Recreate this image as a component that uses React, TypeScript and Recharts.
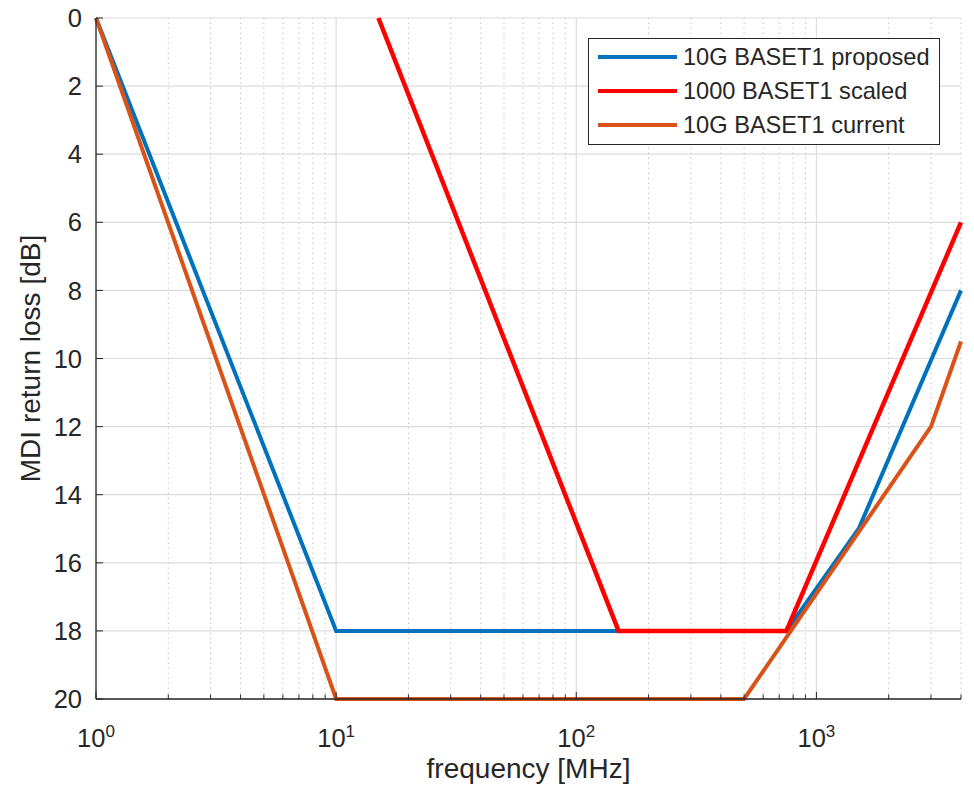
import { LineChart, Line, XAxis, YAxis, CartesianGrid, ReferenceLine, Legend } from 'recharts'

const FONT = '"Liberation Sans", Arial, Helvetica, sans-serif'
const AX = '#262626'

// series: frequency [MHz] / return loss [dB]
const proposedFreq = [1, 10, 750, 1500, 4000]
const proposedRL = [0, 18, 18, 15, 8]
const scaledFreq = [15, 150, 750, 4000]
const scaledRL = [0, 18, 18, 6]
const currentFreq = [1, 10, 500, 3000, 4000]
const currentRL = [0, 20, 20, 12, 9.5]

const seriesNames = ['10G BASET1 proposed', '1000 BASET1 scaled', '10G BASET1 current']
const seriesColors = ['#0072BD', '#FF0000', '#D95319']

const xMajorTicks = [1, 10, 100, 1000]
const xMajorExp = ['0', '1', '2', '3']
const xMinorTicks = [
  2, 3, 4, 5, 6, 7, 8, 9,
  20, 30, 40, 50, 60, 70, 80, 90,
  200, 300, 400, 500, 600, 700, 800, 900,
  2000, 3000, 4000,
]
const yTicks = [0, 2, 4, 6, 8, 10, 12, 14, 16, 18, 20]

const toPoints = (fs: number[], vs: number[]) => fs.map((f, i) => ({ f, rl: vs[i] }))
const proposed = toPoints(proposedFreq, proposedRL)
const scaled = toPoints(scaledFreq, scaledRL)
const current = toPoints(currentFreq, currentRL)
const allXTicks = [...xMajorTicks, ...xMinorTicks]

const BottomTick = ({ x, y, payload }: any) => {
  const idx = xMajorTicks.indexOf(payload.value)
  const major = idx >= 0
  return (
    <g>
      <line x1={x} x2={x} y1={y} y2={y - (major ? 7 : 4.5)} stroke={AX} strokeWidth={1} />
      {major && (
        <text x={x} y={y + 48} textAnchor="middle" fontSize={25.5} fill={AX} fontFamily={FONT}>
          10
          <tspan dy={-10} fontSize={17}>{xMajorExp[idx]}</tspan>
        </text>
      )}
    </g>
  )
}

const TopTick = ({ x, y, payload }: any) => {
  const major = xMajorTicks.includes(payload.value)
  return <line x1={x} x2={x} y1={y} y2={y + (major ? 7 : 4.5)} stroke={AX} strokeWidth={1} />
}

const LeftTick = ({ x, y, payload }: any) => (
  <g>
    <line x1={x} x2={x + 7} y1={y} y2={y} stroke={AX} strokeWidth={1} />
    <text x={x - 14} y={y} dy="0.36em" textAnchor="end" fontSize={25.5} fill={AX} fontFamily={FONT}>
      {payload.value}
    </text>
  </g>
)

const RightTick = ({ x, y }: any) => (
  <line x1={x} x2={x - 7} y1={y} y2={y} stroke={AX} strokeWidth={1} />
)

const renderLegend = ({ payload }: any) => {
  const items = seriesNames.map((n, i) => {
    const p = (payload || []).find((e: any) => e.value === n)
    return { name: n, color: p ? p.color : seriesColors[i] }
  })
  return (
    <div
      style={{
        border: `1.3px solid ${AX}`,
        background: '#fff',
        boxSizing: 'border-box',
        width: 352,
        height: 107,
        padding: '1px 0 0 9px',
        fontFamily: FONT,
      }}
    >
      {items.map((it) => (
        <div key={it.name} style={{ display: 'flex', alignItems: 'center', height: 34 }}>
          <svg width={79} height={8}>
            <line x1={0} x2={79} y1={4} y2={4} stroke={it.color} strokeWidth={4} />
          </svg>
          <span style={{ marginLeft: 6, fontSize: 23.6, color: AX, whiteSpace: 'nowrap' }}>{it.name}</span>
        </div>
      ))}
    </div>
  )
}

export default function App() {
  return (
    <div style={{ width: 974, height: 785, background: '#fff' }}>
      <style>{`body { margin: 0; }`}</style>
      <LineChart width={974} height={785} margin={{ top: 18, right: 13, bottom: 0, left: 0 }} style={{ fontFamily: FONT }}>
        <CartesianGrid vertical={false} stroke="#dcdcdc" strokeWidth={1.2} />
        {xMinorTicks.map((v) => (
          <ReferenceLine key={`m${v}`} x={v} stroke="#c4c4c4" strokeWidth={1} strokeDasharray="1.5 3.5" />
        ))}
        {xMajorTicks.map((v) => (
          <ReferenceLine key={`M${v}`} x={v} stroke="#dcdcdc" strokeWidth={1.2} />
        ))}
        <XAxis
          dataKey="f"
          type="number"
          scale="log"
          domain={[1, 4000]}
          ticks={allXTicks}
          interval={0}
          tickSize={0}
          tickMargin={0}
          tickLine={false}
          axisLine={{ stroke: AX, strokeWidth: 1.3 }}
          height={86}
          tick={BottomTick}
          label={{ value: 'frequency [MHz]', position: 'insideBottom', offset: 7, style: { fontSize: 28, fill: AX, fontFamily: FONT } }}
        />
        <XAxis
          xAxisId="top"
          orientation="top"
          type="number"
          scale="log"
          domain={[1, 4000]}
          ticks={allXTicks}
          interval={0}
          tickSize={0}
          tickMargin={0}
          tickLine={false}
          axisLine={{ stroke: AX, strokeWidth: 1.3 }}
          height={0}
          tick={TopTick}
        />
        <YAxis
          type="number"
          domain={[0, 20]}
          reversed
          ticks={yTicks}
          interval={0}
          tickSize={0}
          tickMargin={0}
          tickLine={false}
          axisLine={{ stroke: AX, strokeWidth: 1.3 }}
          width={96}
          tick={LeftTick}
          label={{
            value: 'MDI return loss [dB]',
            angle: -90,
            position: 'insideLeft',
            offset: 30,
            style: { textAnchor: 'middle', fontSize: 28, fill: AX, fontFamily: FONT },
          }}
        />
        <YAxis
          yAxisId="right"
          orientation="right"
          type="number"
          domain={[0, 20]}
          reversed
          ticks={yTicks}
          interval={0}
          tickSize={0}
          tickMargin={0}
          tickLine={false}
          axisLine={{ stroke: AX, strokeWidth: 1.3 }}
          width={0}
          tick={RightTick}
        />
        <Line data={proposed} dataKey="rl" name={seriesNames[0]} stroke={seriesColors[0]} strokeWidth={4} dot={false} type="linear" isAnimationActive={false} />
        <Line data={scaled} dataKey="rl" name={seriesNames[1]} stroke={seriesColors[1]} strokeWidth={4.5} dot={false} type="linear" isAnimationActive={false} />
        <Line data={current} dataKey="rl" name={seriesNames[2]} stroke={seriesColors[2]} strokeWidth={4} dot={false} type="linear" isAnimationActive={false} />
        <Legend
          layout="vertical"
          align="center"
          verticalAlign="middle"
          content={renderLegend}
          wrapperStyle={{ left: 588, top: 38, width: 352, height: 107 }}
        />
      </LineChart>
    </div>
  )
}
